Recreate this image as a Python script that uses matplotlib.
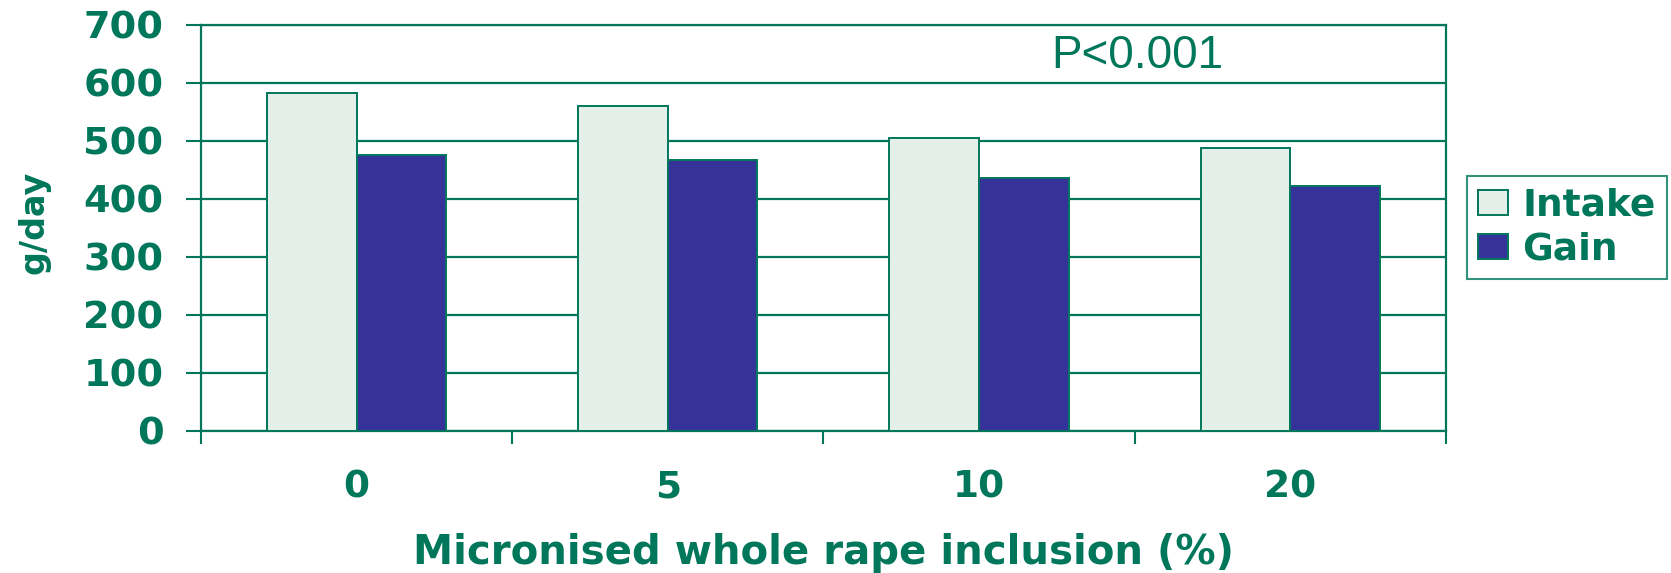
import matplotlib.pyplot as plt
import numpy as np

inclusion = ["0", "5", "10", "20"]
intake = [582, 560, 505, 487]
gain = [475, 467, 436, 422]

green = "#00775A"
intake_col = "#E4EFE9"
gain_col = "#353399"
bold_font = ["DejaVu Sans"]

plt.rcParams["font.family"] = ["Liberation Sans", "DejaVu Sans"]

fig = plt.figure(figsize=(16.71, 5.73), dpi=100)
ax = fig.add_axes([0.1203, 0.2483, 0.745, 0.7086])

x = np.arange(len(inclusion))
w = 0.288
ax.bar(x - w / 2, intake, w, color=intake_col, edgecolor=green, linewidth=1.4,
       label="Intake", zorder=3)
ax.bar(x + w / 2, gain, w, color=gain_col, edgecolor=green, linewidth=1.4,
       label="Gain", zorder=3)

ax.set_xlim(-0.5, len(inclusion) - 0.5)
ax.set_ylim(0, 700)
ax.set_yticks(range(0, 701, 100))
ax.yaxis.grid(True, color=green, linewidth=1.6, zorder=0)

ax.set_xticks(x)
ax.set_xticklabels(inclusion)
ax.set_xticks(np.arange(-0.5, len(inclusion)), minor=True)
ax.tick_params(axis="x", which="major", length=0, pad=28, labelcolor=green)
ax.tick_params(axis="x", which="minor", length=9, width=1.5, color=green,
               direction="out")
ax.tick_params(axis="y", length=11, width=1.5, color=green, pad=16,
               labelcolor=green)
for lab in ax.get_xticklabels():
    lab.set_fontweight("bold")
    lab.set_family(bold_font)
    lab.set_fontsize(27)
for lab in ax.get_yticklabels():
    lab.set_fontweight("bold")
    lab.set_family(bold_font)
    lab.set_fontsize(27.5)

for s in ["left", "right", "bottom", "top"]:
    ax.spines[s].set_color(green)
    ax.spines[s].set_linewidth(1.6)

ax.set_ylabel("g/day", fontsize=24, fontweight="bold", color=green,
              family=bold_font)
ax.yaxis.set_label_coords(-0.121, 0.512)
ax.set_xlabel("Micronised whole rape inclusion (%)", fontsize=29,
              fontweight="bold", color=green, labelpad=20, family=bold_font)

ax.text(0.752, 0.894, "P<0.001", transform=ax.transAxes, fontsize=33,
        color=green, ha="center", va="baseline")

leg = ax.legend(loc="center left", bbox_to_anchor=(1.017, 0.50),
                prop={"family": bold_font, "weight": "bold", "size": 27},
                frameon=True, fancybox=False, handlelength=0.78,
                handleheight=0.65, handletextpad=0.4, borderpad=0.3,
                labelspacing=0.22, borderaxespad=0)
leg.get_frame().set_edgecolor(green)
leg.get_frame().set_linewidth(1.5)
for t in leg.get_texts():
    t.set_color(green)

fig.savefig("out.png", dpi=100)
